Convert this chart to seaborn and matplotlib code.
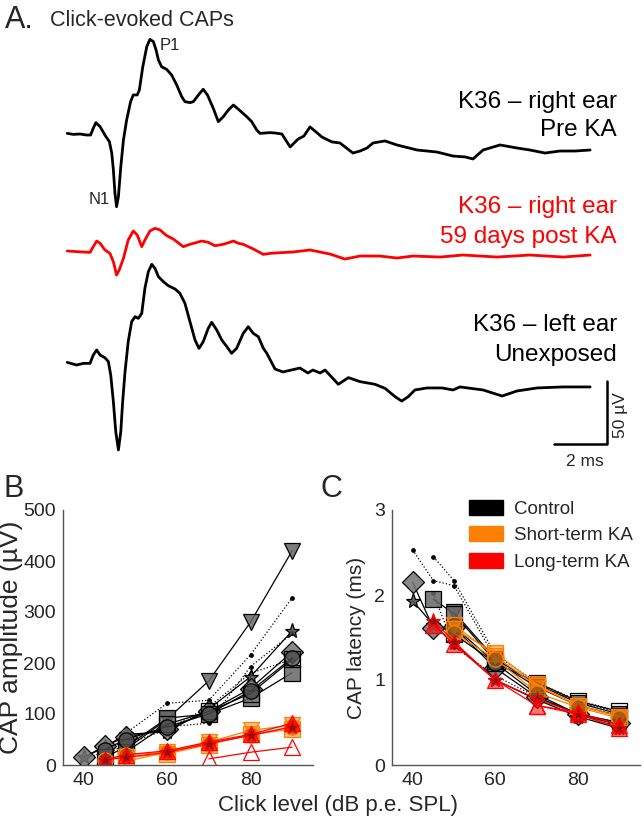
import numpy as np
import pandas as pd
import matplotlib
matplotlib.use('Agg')
import matplotlib.pyplot as plt
import seaborn as sns
from matplotlib.patches import Patch

# --- Panel A: click-evoked CAP traces (time in ms, amplitude in uV) ---
pre_t = [0.01, 0.24, 0.49, 0.74, 0.89, 0.99, 1.09, 1.25, 1.43, 1.60, 1.69, 1.75, 1.81, 1.87, 1.94,
         2.03, 2.13, 2.25, 2.40, 2.50, 2.65, 2.73, 2.86, 3.01, 3.13, 3.26, 3.36, 3.45, 3.57, 3.76,
         3.95, 4.14, 4.33, 4.45, 4.64, 4.77, 4.96, 5.14, 5.30, 5.52, 5.71, 5.90, 6.09, 6.28, 6.47,
         6.78, 6.97, 7.16, 7.28, 7.66, 7.85, 8.11, 8.42, 8.72, 8.94, 9.17, 9.40, 9.62, 10.00, 10.30,
         10.79, 11.06, 11.32, 11.55, 12.00, 12.45, 13.21, 13.96, 14.57, 15.02, 15.32, 15.70, 16.34,
         16.98, 17.47, 18.04, 18.60, 19.17, 19.74]
pre_v = [-0.3, -1.1, -0.8, -1.6, -1.6, 3.7, 8.2, 5.0, -1.6, -6.9, -16.1, -29.4, -47.9, -58.5, -50.5,
         -26.7, -5.6, 10.3, 24.9, 30.2, 30.2, 34.1, 52.6, 68.5, 74.3, 72.5, 65.9, 57.9, 52.6, 50.5,
         46.0, 38.1, 28.8, 24.9, 24.1, 24.9, 30.2, 34.7, 30.2, 19.6, 9.0, 13.0, 18.3, 22.2, 18.8,
         13.0, 9.0, 2.4, -0.3, 0.3, 0, -0.8, -11.1, -4.8, -2.4, 4.8, 0.8, -3.2, -7.1, -7.9,
         -15.9, -14.3, -11.9, -7.9, -6.3, -9.5, -13.5, -15.1, -18.3, -19.0, -20.6, -13.5, -9.5,
         -11.9, -13.5, -15.9, -14.3, -14.3, -13.5]

post_t = [0.01, 0.36, 0.87, 0.99, 1.12, 1.25, 1.43, 1.62, 1.75, 1.87, 1.97, 2.13, 2.31, 2.50, 2.65,
          2.82, 2.94, 3.13, 3.32, 3.51, 3.76, 4.01, 4.39, 4.64, 5.08, 5.33, 5.58, 5.90, 6.28, 6.47,
          6.65, 7.03, 7.41, 7.66, 7.85, 8.53, 9.17, 9.92, 10.49, 11.06, 11.81, 12.45, 13.06, 14.08,
          14.94, 16.23, 17.47, 18.72, 19.74]
post_v = [0.8, 0.3, -0.3, 4.2, 8.7, 6.9, 1.6, -1.1, -7.7, -18.3, -14.3, -5.0, 9.5, 16.7, 13.5,
          4.2, 9.5, 16.7, 18.8, 17.5, 13.0, 10.3, 4.2, 6.1, 8.7, 7.7, 5.0, 6.1, 8.7, 6.9,
          6.1, 2.4, -1.9, -1.1, -0.8, 0, 1.6, -1.6, -5.6, -3.2, -3.2, -4.8, -3.2, -4.0,
          -2.4, -4.0, -2.4, -4.0, -2.4]

left_t = [0.01, 0.36, 0.62, 0.87, 0.99, 1.12, 1.25, 1.43, 1.56, 1.65, 1.75, 1.84, 1.94, 2.03, 2.10,
          2.19, 2.31, 2.44, 2.57, 2.69, 2.82, 2.94, 3.07, 3.20, 3.32, 3.45, 3.64, 3.82, 4.08, 4.26,
          4.45, 4.64, 4.83, 4.98, 5.14, 5.33, 5.46, 5.65, 5.84, 6.03, 6.21, 6.40, 6.65, 6.84, 7.03,
          7.22, 7.41, 7.54, 7.85, 8.15, 8.79, 9.09, 9.28, 9.55, 9.74, 10.24, 10.62, 11.06, 11.62,
          12.00, 12.38, 12.63, 12.88, 13.13, 13.58, 14.15, 14.57, 14.83, 15.70, 16.42, 16.98, 17.74,
          18.72, 19.74]
left_v = [0.5, -1.6, -0.3, -0.3, 6.3, 10.3, 6.3, 4.2, 1.1, -9.5, -30.7, -54.5, -69.0, -54.5, -30.7,
          -6.9, 16.9, 32.8, 36.8, 35.4, 39.4, 59.3, 72.5, 78.3, 75.1, 68.5, 64.5, 61.4, 58.7, 55.3,
          47.4, 32.8, 18.3, 11.6, 16.9, 27.5, 32.3, 26.2, 18.3, 13.0, 7.7, 11.6, 23.5, 28.8, 23.5,
          20.9, 11.6, 7.7, -4.8, -7.1, -4.0, -7.9, -5.6, -7.9, -5.6, -16.9, -11.6, -14.8, -16.9,
          -20.1, -26.7, -30.2, -26.7, -21.4, -19.8, -19.8, -21.4, -19.0, -21.4, -26.2, -22.2, -19.8,
          -19.0, -19.0]

# --- Panels B/C: CAP amplitude (uV) and latency (ms) vs click level ---
levels = [40, 45, 50, 60, 70, 80, 90]
nan = np.nan

ctrl_tri_amp = [nan, nan, 30, 90, 165, 280, 420]
ctrl_tri_lat = [nan, nan, 1.80, 1.25, 0.95, 0.73, 0.60]
ctrl_star_amp = [15, 35, 60, 65, 110, 173, 263]
ctrl_star_lat = [1.93, 1.65, 1.43, 1.00, 0.77, 0.57, 0.43]
ctrl_dia_amp = [15, 37, 55, 70, 105, 150, 222]
ctrl_dia_lat = [2.15, 1.61, 1.62, 1.14, 0.80, 0.60, 0.50]
ctrl_sq_amp = [nan, 15, 35, 92, 100, 131, 181]
ctrl_sq_lat = [nan, 1.95, 1.78, 1.22, 0.92, 0.70, 0.58]
ctrl_osq_amp = [nan, nan, 25, 80, 105, 140, 207]
ctrl_osq_lat = [nan, nan, 1.54, 1.20, 0.97, 0.75, 0.63]
ctrl_circ_amp = [nan, 30, 50, 75, 100, 145, 210]
ctrl_circ_lat = [nan, nan, 1.63, 1.20, 0.83, 0.60, 0.47]

ctrl_dot1_amp = [13, 25, 49, 75, 82, 193, 258]
ctrl_dot1_lat = [2.53, 2.17, 2.11, 1.25, 0.95, 0.74, 0.62]
ctrl_dot2_amp = [nan, 30, 62, 121, 127, 216, 328]
ctrl_dot2_lat = [nan, 2.45, 2.17, 1.30, 0.97, 0.76, 0.63]
ctrl_dot3_amp = [nan, 20, 40, 70, 114, 180, 207]
ctrl_dot3_lat = [nan, 2.02, 1.39, 1.05, 0.80, 0.60, 0.50]

short_tri_amp = [nan, nan, 7, 25, 45, 68, 78]
short_tri_lat = [nan, nan, 1.65, 1.28, 0.93, 0.70, 0.57]
short_sq_amp = [nan, nan, 15, 22, 40, 60, 70]
short_sq_lat = [nan, nan, 1.60, 1.32, 0.95, 0.70, 0.57]
short_circ_amp = [nan, 10, 20, 25, 42, 58, 75]
short_circ_lat = [nan, nan, 1.55, 1.25, 0.85, 0.68, 0.55]

long_tri_amp = [nan, 10, 20, 28, 45, 60, 82]
long_tri_lat = [nan, 1.65, 1.42, 1.00, 0.70, 0.60, 0.44]
long_star_amp = [nan, 10, 15, 25, 42, 58, 75]
long_star_lat = [nan, 1.70, 1.45, 1.00, 0.78, 0.60, 0.43]
long_otri_amp = [nan, nan, nan, nan, 12, 25, 35]
long_otri_lat = [nan, nan, nan, nan, 0.70, 0.62, 0.47]

group_names = ['Control', 'Short-term KA', 'Long-term KA']
group_colors = ['black', '#FF8000', '#FF0000']

sns.set_style('white')
plt.rcParams['font.family'] = ['Liberation Sans', 'DejaVu Sans']

W, H = 644, 827
fig = plt.figure(figsize=(W / 100, H / 100), dpi=100)


def fx(x):
    return x / W


def fy(y):
    return 1 - y / H


# Panel A: whole-figure axes in ms / uV units (26.5 px per ms, 1.26 px per uV)
ax_a = fig.add_axes([0, 0, 1, 1])
ax_a.set_xlim(-67 / 26.5, (W - 67) / 26.5)
ax_a.set_ylim((133 - H) / 1.26, 133 / 1.26)
ax_a.axis('off')
ax_a.patch.set_alpha(0)

off_post = -(252 - 133) / 1.26
off_left = -(363 - 133) / 1.26
trace_kw = dict(sort=False, estimator=None, lw=2, ax=ax_a, solid_joinstyle='round')
sns.lineplot(x=pre_t, y=pre_v, color='black', **trace_kw)
sns.lineplot(x=post_t, y=np.array(post_v) + off_post, color='#FF0000', **trace_kw)
sns.lineplot(x=left_t, y=np.array(left_v) + off_left, color='black', **trace_kw)

# scale bar: 2 ms / 50 uV
bx, by = (607 - 67) / 26.5, (133 - 444) / 1.26
ax_a.plot([bx - 2, bx, bx], [by, by, by + 50], color='black', lw=1.8)

fig.text(fx(5), fy(20), 'A.', fontsize=22, va='center')
fig.text(fx(50), fy(21), 'Click-evoked CAPs', fontsize=15.5, va='center')
fig.text(fx(160), fy(45), 'P1', fontsize=12, va='center')
fig.text(fx(110), fy(200), 'N1', fontsize=12, va='center', ha='right')

txt_kw = dict(fontsize=17.5, ha='right', va='center')
fig.text(fx(617), fy(102), 'K36 – right ear', color='black', **txt_kw)
fig.text(fx(617), fy(130), 'Pre KA', color='black', **txt_kw)
fig.text(fx(617), fy(207), 'K36 – right ear', color='#FF0000', **txt_kw)
fig.text(fx(617), fy(237), '59 days post KA', color='#FF0000', **txt_kw)
fig.text(fx(617), fy(325), 'K36 – left ear', color='black', **txt_kw)
fig.text(fx(617), fy(355), 'Unexposed', color='black', **txt_kw)
fig.text(fx(585), fy(462), '2 ms', fontsize=12.5, ha='center', va='center')
fig.text(fx(621), fy(415), '50 µV', fontsize=12.5, ha='center', va='center', rotation=90)

# Panels B and C
ax_b = fig.add_axes([fx(63), fy(765), (313 - 63) / W, (765 - 510) / H])
ax_c = fig.add_axes([fx(392), fy(765), (640 - 392) / W, (765 - 510) / H])

series = [
    # (amp, lat, marker, line colour, face colour, edge colour, linestyle)
    (ctrl_dot1_amp, ctrl_dot1_lat, '.', 'black', 'black', 'black', ':'),
    (ctrl_dot2_amp, ctrl_dot2_lat, '.', 'black', 'black', 'black', ':'),
    (ctrl_dot3_amp, ctrl_dot3_lat, '.', 'black', 'black', 'black', ':'),
    (ctrl_tri_amp, ctrl_tri_lat, 'v', 'black', (0.4, 0.4, 0.4, 0.85), 'black', '-'),
    (ctrl_star_amp, ctrl_star_lat, '*', 'black', (0.3, 0.3, 0.3, 0.85), 'black', '-'),
    (ctrl_dia_amp, ctrl_dia_lat, 'D', 'black', (0.45, 0.45, 0.45, 0.85), 'black', '-'),
    (ctrl_sq_amp, ctrl_sq_lat, 's', 'black', (0.4, 0.4, 0.4, 0.85), 'black', '-'),
    (ctrl_osq_amp, ctrl_osq_lat, 's', 'black', 'none', 'black', '-'),
    (ctrl_circ_amp, ctrl_circ_lat, 'o', 'black', (0.3, 0.3, 0.3, 0.8), 'black', '-'),
    (short_tri_amp, short_tri_lat, 'v', '#FF8000', (1, 0.5, 0, 0.5), '#FF8000', '-'),
    (short_sq_amp, short_sq_lat, 's', '#FF8000', (1, 0.5, 0, 0.5), '#FF8000', '-'),
    (short_circ_amp, short_circ_lat, 'o', '#FF8000', (0.5, 0.3, 0.1, 0.6), '#FF8000', '-'),
    (long_tri_amp, long_tri_lat, '^', '#FF0000', (1, 0, 0, 0.55), '#FF0000', '-'),
    (long_star_amp, long_star_lat, '*', '#FF0000', (0.5, 0.05, 0.05, 0.8), '#FF0000', '-'),
    (long_otri_amp, long_otri_lat, '^', '#FF0000', 'none', '#FF0000', '-'),
]

for amp, lat, mk, lc, fc, ec, ls in series:
    ms = 5 if mk == '.' else 11
    for ax, vals in ((ax_b, amp), (ax_c, lat)):
        df = pd.DataFrame({'level': levels, 'val': vals}).dropna()
        sns.lineplot(data=df, x='level', y='val', ax=ax, color=lc, lw=0.9, linestyle=ls,
                     marker=mk, markersize=ms, markerfacecolor=fc, markeredgecolor=ec,
                     markeredgewidth=0.9, estimator=None, sort=False)

for ax in (ax_b, ax_c):
    ax.set_xlim(35, 95)
    ax.set_xticks([40, 60, 80])
    sns.despine(ax=ax)
    for s in ('left', 'bottom'):
        ax.spines[s].set_color('#555555')
        ax.spines[s].set_linewidth(1.0)
    ax.tick_params(direction='in', length=3, color='#555555', labelsize=14,
                   labelcolor='#262626', pad=5)
    ax.set_xlabel('')
    ax.patch.set_alpha(0)

ax_b.set_ylim(0, 500)
ax_b.set_yticks([0, 100, 200, 300, 400, 500])
ax_b.set_ylabel('CAP amplitude (µV)', fontsize=19, color='#262626', labelpad=0)
ax_c.set_ylim(0, 3)
ax_c.set_yticks([0, 1, 2, 3])
ax_c.set_ylabel('CAP latency (ms)', fontsize=15, color='#262626', labelpad=6)

fig.text(fx(338), fy(806), 'Click level (dB p.e. SPL)', fontsize=16, color='#262626',
         ha='center', va='center')
fig.text(fx(3), fy(489), 'B', fontsize=22, va='center')
fig.text(fx(321), fy(489), 'C', fontsize=22, va='center')

handles = [Patch(facecolor=c, edgecolor=c) for c in group_colors]
ax_c.legend(handles, group_names, loc='upper left', bbox_to_anchor=(0.31, 1.04),
            frameon=False, fontsize=13.5, handlelength=1.8, handleheight=0.85,
            handletextpad=0.6, labelspacing=0.45, borderpad=0, borderaxespad=0)

fig.savefig('out.png', dpi=100)
